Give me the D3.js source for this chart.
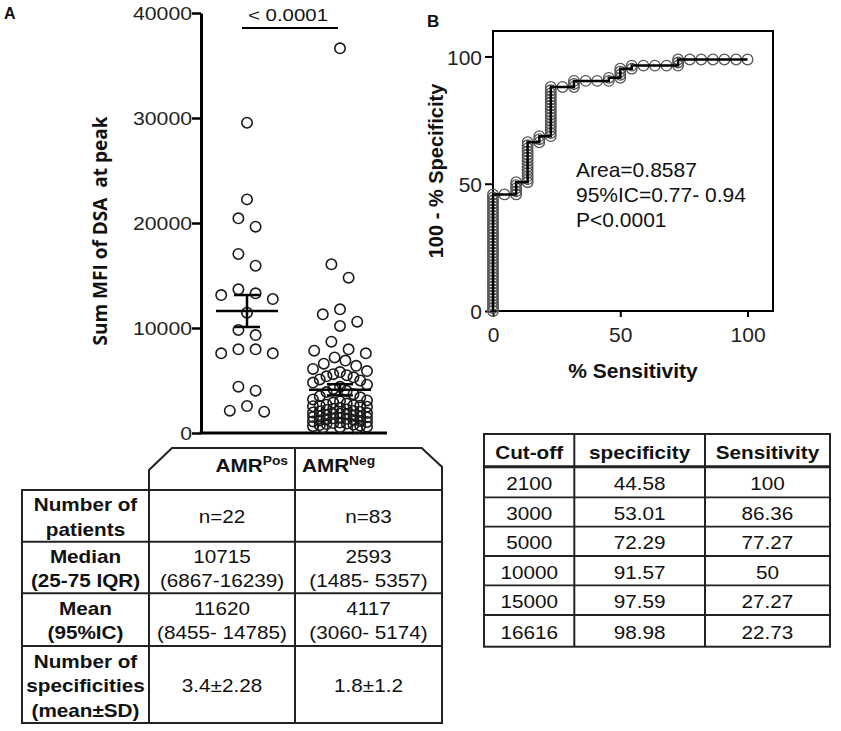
<!DOCTYPE html>
<html>
<head>
<meta charset="utf-8">
<script src="https://cdn.jsdelivr.net/npm/d3@7"></script>
<style>
  body { margin: 0; background: #fff; }
  svg { display: block; }
  text { font-family: "Liberation Sans", Arial, sans-serif; fill: #111; }
</style>
</head>
<body>
<script>
// ---- Panel A: Sum MFI of DSA at peak, per group ----
const groups = ["AMRPos", "AMRNeg"];
const mfiPos = [29550, 22250, 20450, 19650, 17050, 15930, 13680, 13300, 13140, 12760, 11460,
  9810, 9330, 7970, 7590, 7590, 7970, 4410, 4030, 2570, 2030, 2130];
const mfiNeg = [36640, 16070, 14790, 11780, 11300, 10600, 10190, 8700, 7970, 7840, 7590,
  7200, 6900, 6600, 6400, 6100, 5900, 5800, 5600, 5500, 5400,
  5300, 5100, 5000, 4800, 4600, 4400, 4200, 4000, 3900, 3700, 3500, 3400, 3200, 3100, 3000,
  2900, 2800, 2700, 2650, 2600, 2593,
  2550, 2500, 2400, 2300, 2250, 2200, 2100, 2050, 2000, 1950, 1900, 1850, 1800, 1750, 1700,
  1650, 1600, 1550, 1520, 1490,
  1450, 1400, 1350, 1300, 1250, 1200, 1150, 1100, 1050, 1000, 950, 900, 850, 800, 750, 700,
  650, 600, 550, 500, 450];
const groupMean = [11620, 4117];
const ciLow = [8455, 3060];
const ciHigh = [14785, 5174];
const tCrit = [2.08, 1.99];
const yTicksA = [0, 10000, 20000, 30000, 40000];
const pLabel = "< 0.0001";

// ---- Panel B: ROC curve ----
const rocPoints = [
  [0, 0], [0, 1.2], [0, 2.4], [0, 3.6], [0, 4.8], [0, 6.0], [0, 7.2], [0, 8.4], [0, 9.6], [0, 10.8],
  [0, 12.0], [0, 13.3], [0, 14.5], [0, 15.7], [0, 16.9], [0, 18.1], [0, 19.3], [0, 20.5], [0, 21.7], [0, 22.9],
  [0, 24.1], [0, 25.3], [0, 26.5], [0, 27.7], [0, 28.9], [0, 30.1], [0, 31.3], [0, 32.5], [0, 33.7], [0, 34.9],
  [0, 36.1], [0, 37.3], [0, 38.6], [0, 39.8], [0, 41.0], [0, 42.2], [0, 43.4], [0, 44.6], [0, 45.8],
  [4.5, 45.8],
  [9.1, 45.8], [9.1, 47.0], [9.1, 48.2], [9.1, 49.4], [9.1, 50.6],
  [13.6, 50.6], [13.6, 51.8], [13.6, 53.0], [13.6, 54.2], [13.6, 55.4], [13.6, 56.6], [13.6, 57.8],
  [13.6, 59.0], [13.6, 60.2], [13.6, 61.4], [13.6, 62.7], [13.6, 63.9], [13.6, 65.1], [13.6, 66.3],
  [18.2, 66.3], [18.2, 67.5], [18.2, 68.7],
  [22.7, 68.7], [22.7, 69.9], [22.7, 71.1], [22.7, 72.3], [22.7, 73.5], [22.7, 74.7], [22.7, 75.9],
  [22.7, 77.1], [22.7, 78.3], [22.7, 79.5], [22.7, 80.7], [22.7, 81.9], [22.7, 83.1], [22.7, 84.3],
  [22.7, 85.5], [22.7, 86.7], [22.7, 88.0],
  [27.3, 88.0],
  [31.8, 88.0], [31.8, 89.2], [31.8, 90.4],
  [36.4, 90.4], [40.9, 90.4],
  [45.5, 90.4], [45.5, 91.6],
  [50, 91.6], [50, 92.8], [50, 94.0], [50, 95.2],
  [54.5, 95.2], [54.5, 96.4],
  [59.1, 96.4], [63.6, 96.4], [68.2, 96.4],
  [72.7, 96.4], [72.7, 97.6], [72.7, 98.8],
  [77.3, 98.8], [81.8, 98.8], [86.4, 98.8], [90.9, 98.8], [95.5, 98.8], [100, 98.8]
];
const rocTicks = [0, 50, 100];
const rocNotes = ["Area=0.8587", "95%IC=0.77- 0.94", "P<0.0001"];

// ---- Tables ----
const rowLabels = [["Number of", "patients"], ["Median", "(25-75 IQR)"], ["Mean", "(95%IC)"],
  ["Number of", "specificities", "(mean±SD)"]];
const colPos = [["n=22"], ["10715", "(6867-16239)"], ["11620", "(8455- 14785)"], ["3.4±2.28"]];
const colNeg = [["n=83"], ["2593", "(1485- 5357)"], ["4117", "(3060- 5174)"], ["1.8±1.2"]];

const cutHeader = ["Cut-off", "specificity", "Sensitivity"];
const cutOff = ["2100", "3000", "5000", "10000", "15000", "16616"];
const cutSpec = ["44.58", "53.01", "72.29", "91.57", "97.59", "98.98"];
const cutSens = ["100", "86.36", "77.27", "50", "27.27", "22.73"];

const W = 841, H = 731;
const svg = d3.select("body").append("svg").attr("width", W).attr("height", H);

// text helper: the figure's fonts are a little stretched horizontally
function stext(parent, x, y, str, o = {}) {
  return parent.append("text")
    .attr("transform", `translate(${x},${y}) scale(${o.sx || 1},1)`)
    .attr("text-anchor", o.anchor || "middle")
    .style("font-size", (o.size || 18) + "px")
    .style("font-weight", o.bold ? "bold" : "normal")
    .text(str);
}

// ================= Panel A =================
stext(svg, 4, 19, "A", { anchor: "start", size: 16, bold: true });

const yA = d3.scaleLinear().domain([0, 40000]).range([433, 13]);
const xA = d3.scalePoint().domain(groups).range([247, 340]);

const axA = svg.append("g")
  .attr("transform", "translate(201,0)")
  .call(d3.axisLeft(yA).tickValues(yTicksA).tickSize(9).tickSizeOuter(0).tickFormat(""));
axA.select(".domain").attr("stroke-width", 3);
axA.selectAll(".tick line").attr("stroke-width", 2.5);
yTicksA.forEach((v) => {
  stext(svg, 192, yA(v) + 6.5, d3.format("d")(v), { anchor: "end", size: 18, sx: 1.18 })
    .style("fill", "#222");
});

svg.append("line")
  .attr("x1", 199.5).attr("x2", 387)
  .attr("y1", yA(0)).attr("y2", yA(0))
  .attr("stroke", "#000").attr("stroke-width", 3);

svg.append("text")
  .attr("transform", "translate(107,231) rotate(-90)")
  .attr("text-anchor", "middle")
  .style("font-family", "'Open Sans', sans-serif")
  .style("font-weight", "bold")
  .style("font-size", "19px")
  .style("white-space", "pre")
  .text("Sum MFI of DSA  at peak");

// significance bracket
svg.append("line")
  .attr("x1", 242).attr("x2", 338).attr("y1", 28).attr("y2", 28)
  .attr("stroke", "#000").attr("stroke-width", 2);
stext(svg, 288, 21, pLabel, { size: 17, sx: 1.2 });

// row-based scatter layout (like a column scatter plot)
function columnScatter(values, cx) {
  const pts = values.map((v) => ({ v, y: yA(v) })).sort((a, b) => a.y - b.y);
  const rows = [];
  let cur = null;
  pts.forEach((p) => {
    if (!cur || p.y - cur.y0 >= 14 || cur.items.length >= 9) {
      cur = { y0: p.y, items: [] };
      rows.push(cur);
    }
    cur.items.push(p);
  });
  rows.forEach((r) => {
    const n = r.items.length;
    const gap = n > 1 ? Math.min(17.2, 54 / (n - 1)) : 0;
    const slots = d3.range(n).map((i) => (i - (n - 1) / 2) * gap)
      .sort((a, b) => Math.abs(a) - Math.abs(b) || a - b);
    r.items.forEach((p, i) => { p.x = cx + slots[i]; });
  });
  return pts;
}

const scatterData = [mfiPos, mfiNeg];
scatterData.forEach((vals, gi) => {
  const pts = columnScatter(vals, xA(groups[gi]));
  svg.append("g").selectAll("circle").data(pts).join("circle")
    .attr("cx", (d) => d.x).attr("cy", (d) => d.y).attr("r", 5.2)
    .attr("fill", "none").attr("stroke", "#1a1a1a").attr("stroke-width", 1.6);
});

// mean and SEM
groups.forEach((g, gi) => {
  const cx = xA(g);
  const sem = (ciHigh[gi] - ciLow[gi]) / 2 / tCrit[gi];
  const m = groupMean[gi];
  const gg = svg.append("g").attr("stroke", "#000");
  gg.append("line").attr("x1", cx - 31).attr("x2", cx + 31)
    .attr("y1", yA(m)).attr("y2", yA(m)).attr("stroke-width", 2.5);
  gg.append("line").attr("x1", cx).attr("x2", cx)
    .attr("y1", yA(m - sem)).attr("y2", yA(m + sem)).attr("stroke-width", 2.5);
  [m - sem, m + sem].forEach((v) => {
    gg.append("line").attr("x1", cx - 13).attr("x2", cx + 13)
      .attr("y1", yA(v)).attr("y2", yA(v)).attr("stroke-width", 2.5);
  });
});

// ================= Panel B =================
stext(svg, 427, 27, "B", { anchor: "start", size: 17, bold: true });

const xB = d3.scaleLinear().domain([0, 110]).range([493, 773]);
const yB = d3.scaleLinear().domain([0, 110]).range([311, 31]);

svg.append("rect")
  .attr("x", xB(0)).attr("y", yB(110))
  .attr("width", xB(110) - xB(0)).attr("height", yB(0) - yB(110))
  .attr("fill", "none").attr("stroke", "#000").attr("stroke-width", 2);

const axBl = svg.append("g").attr("transform", `translate(${xB(0)},0)`)
  .call(d3.axisLeft(yB).tickValues(rocTicks).tickSize(8).tickPadding(3));
const axBb = svg.append("g").attr("transform", `translate(0,${yB(0)})`)
  .call(d3.axisBottom(xB).tickValues(rocTicks).tickSize(6).tickPadding(10));
[axBl, axBb].forEach((a) => {
  a.select(".domain").remove();
  a.selectAll(".tick line").attr("stroke-width", 2);
  a.selectAll(".tick text").style("font-size", "21px").style("fill", "#222");
});
axBl.selectAll(".tick text").attr("dy", "0.38em");

svg.append("g").selectAll("circle").data(rocPoints).join("circle")
  .attr("cx", (d) => xB(d[0])).attr("cy", (d) => yB(d[1])).attr("r", 5.3)
  .attr("fill", "none").attr("stroke", "#555").attr("stroke-width", 1.3);

svg.append("path")
  .datum(rocPoints)
  .attr("d", d3.line().x((d) => xB(d[0])).y((d) => yB(d[1])))
  .attr("fill", "none").attr("stroke", "#000").attr("stroke-width", 2.5);

rocNotes.forEach((s, i) => {
  stext(svg, 576, 177 + i * 25, s, { anchor: "start", size: 21 });
});

stext(svg, xB(55), 378, "% Sensitivity", { size: 21, bold: true });
svg.append("text")
  .attr("transform", `translate(443,${yB(55)}) rotate(-90)`)
  .attr("text-anchor", "middle")
  .style("font-size", "20px").style("font-weight", "bold")
  .text("100 - % Specificity");

// ================= Left table =================
const lt = svg.append("g");
const lCols = [22, 149, 295, 442];
const lRows = [490, 541.7, 593.3, 646, 723];
const SX = 1.15;
const lineStyle = (sel, w = 2) => sel.attr("stroke", "#222").attr("stroke-width", w).attr("fill", "none");

// header tab with chamfered corners
lineStyle(lt.append("path")
  .attr("d", `M${lCols[1]},${lRows[0]} V470 L172,448 H421.7 L${lCols[3]},467 V${lRows[0]}`));
lineStyle(lt.append("line").attr("x1", lCols[2]).attr("x2", lCols[2]).attr("y1", 448).attr("y2", lRows[4]));
lineStyle(lt.append("rect").attr("x", lCols[0]).attr("y", lRows[0])
  .attr("width", lCols[3] - lCols[0]).attr("height", lRows[4] - lRows[0]));
lineStyle(lt.append("line").attr("x1", lCols[1]).attr("x2", lCols[1]).attr("y1", lRows[0]).attr("y2", lRows[4]));
lRows.slice(1, 4).forEach((y) => {
  lineStyle(lt.append("line").attr("x1", lCols[0]).attr("x2", lCols[3]).attr("y1", y).attr("y2", y));
});

// header texts with superscripts
const hPos = stext(lt, 288, 471.7, "AMR", { anchor: "end", size: 18, bold: true, sx: SX });
hPos.append("tspan").attr("dy", -7).style("font-size", "12px").text("Pos");
const hNeg = stext(lt, 302, 471.7, "AMR", { anchor: "start", size: 18, bold: true, sx: SX });
hNeg.append("tspan").attr("dy", -7).style("font-size", "12px").text("Neg");

function cellLines(lines, cx, r, bold) {
  const mid = (lRows[r] + lRows[r + 1]) / 2;
  lines.forEach((s, i) => {
    const y = mid - ((lines.length - 1) / 2) * 24.5 + i * 24.5 + 7.5;
    stext(lt, cx, y, s, { size: 18, bold, sx: SX });
  });
}
rowLabels.forEach((lines, r) => cellLines(lines, (lCols[0] + lCols[1]) / 2, r, true));
colPos.forEach((lines, r) => cellLines(lines, (lCols[1] + lCols[2]) / 2, r, false));
colNeg.forEach((lines, r) => cellLines(lines, (lCols[2] + lCols[3]) / 2, r, false));

// ================= Right table =================
const rt = svg.append("g");
const rCols = [484, 574.3, 705, 830];
const rRows = [434, 466.7, 497.3, 526.7, 556, 585.3, 615, 646.7];
lineStyle(rt.append("rect").attr("x", rCols[0]).attr("y", rRows[0])
  .attr("width", rCols[3] - rCols[0]).attr("height", rRows[7] - rRows[0]));
rCols.slice(1, 3).forEach((x) => {
  lineStyle(rt.append("line").attr("x1", x).attr("x2", x).attr("y1", rRows[0]).attr("y2", rRows[7]));
});
rRows.slice(1, 7).forEach((y, i) => {
  lineStyle(rt.append("line").attr("x1", rCols[0]).attr("x2", rCols[3]).attr("y1", y).attr("y2", y), i === 0 ? 3 : 1.8);
});
const rColCenter = (c) => (rCols[c] + rCols[c + 1]) / 2;
const rRowBase = (r) => (rRows[r] + rRows[r + 1]) / 2 + 8;
cutHeader.forEach((s, c) => stext(rt, rColCenter(c), rRowBase(0) + 1, s, { size: 18, bold: true, sx: SX }));
[cutOff, cutSpec, cutSens].forEach((col, c) => {
  col.forEach((s, r) => stext(rt, rColCenter(c), rRowBase(r + 1), s, { size: 18, sx: SX }));
});
</script>
</body>
</html>
